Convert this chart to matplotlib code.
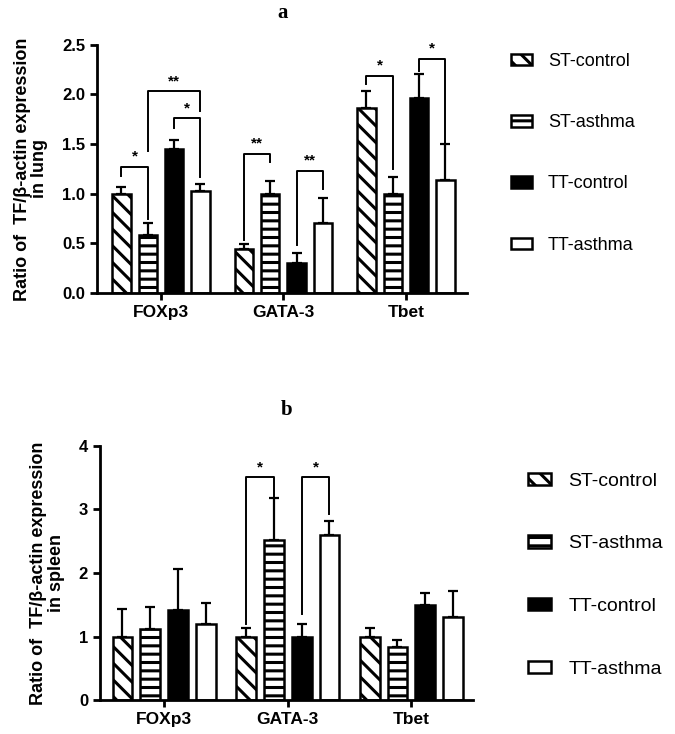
import matplotlib as mpl
mpl.use('Agg')
import matplotlib.pyplot as plt
import numpy as np

plt.rcParams['font.family'] = ['Liberation Sans', 'DejaVu Sans']
plt.rcParams['hatch.linewidth'] = 2.2

genes = ['FOXp3', 'GATA-3', 'Tbet']
groups = ['ST-control', 'ST-asthma', 'TT-control', 'TT-asthma']

# panel a, lung: rows = groups, columns = genes
lung_mean = [[1.00, 0.44, 1.86],
             [0.58, 1.00, 1.00],
             [1.45, 0.30, 1.96],
             [1.03, 0.70, 1.14]]
lung_err = [[0.07, 0.05, 0.17],
            [0.12, 0.13, 0.17],
            [0.09, 0.10, 0.25],
            [0.07, 0.26, 0.36]]

# panel b, spleen
spleen_mean = [[1.00, 1.00, 1.00],
               [1.12, 2.52, 0.83],
               [1.42, 0.99, 1.50],
               [1.20, 2.59, 1.31]]
spleen_err = [[0.43, 0.13, 0.13],
              [0.34, 0.65, 0.12],
              [0.64, 0.21, 0.19],
              [0.33, 0.23, 0.41]]

# significance brackets: gene, bar1, bar2, top, left leg end, right leg end, label
lung_sig = [(0, 0, 1, 1.27, 1.18, 0.74, '*'),
            (0, 1, 3, 2.03, 1.43, 1.83, '**'),
            (0, 2, 3, 1.76, 1.66, 1.17, '*'),
            (1, 0, 1, 1.40, 0.53, 1.32, '**'),
            (1, 2, 3, 1.23, 0.48, 1.05, '**'),
            (2, 0, 1, 2.19, 2.10, 1.25, '*'),
            (2, 2, 3, 2.36, 2.24, 1.29, '*')]
spleen_sig = [(1, 0, 1, 3.50, 1.20, 3.19, '*'),
              (1, 2, 3, 3.50, 1.36, 2.93, '*')]

hatches = ['\\\\', '--', '', '']
faces = ['white', 'white', 'black', 'white']

fig = plt.figure(figsize=(6.75, 7.34), dpi=100)


def panel(rect, means, errs, sig, step, width, ylim, yticks, ylab, title, title_pad,
          leg_anchor, leg_fs, leg_sp):
    ax = fig.add_axes(rect)
    x = np.arange(len(genes))
    handles = []
    for i, g in enumerate(groups):
        pos = x + (i - 1.5) * step
        b = ax.bar(pos, means[i], width, color=faces[i], edgecolor='black',
                   linewidth=1.8, hatch=hatches[i], label=g, zorder=2)
        ax.errorbar(pos, means[i], yerr=[np.zeros(len(genes)), errs[i]], fmt='none',
                    ecolor='black', elinewidth=1.6, capsize=3.5, capthick=1.6, zorder=1)
        handles.append(b)
    for gi, b1, b2, top, l_end, r_end, lab in sig:
        x1 = gi + (b1 - 1.5) * step
        x2 = gi + (b2 - 1.5) * step
        ax.plot([x1, x1, x2, x2], [l_end, top, top, r_end], color='black', lw=1.4)
        ax.text((x1 + x2) / 2, top + ylim[1] * 0.012, lab, ha='center', va='bottom',
                fontsize=11, fontweight='bold')
    ax.set_xlim(-0.52, 2.5)
    ax.set_ylim(*ylim)
    ax.set_yticks(yticks)
    ax.set_xticks(x)
    ax.set_xticklabels(genes, fontweight='bold', fontsize=12.5)
    for t in ax.get_yticklabels():
        t.set_fontweight('bold')
        t.set_fontsize(12)
    ax.spines['top'].set_visible(False)
    ax.spines['right'].set_visible(False)
    ax.spines['left'].set_linewidth(2)
    ax.spines['bottom'].set_linewidth(2)
    ax.tick_params(width=2, length=5)
    ax.set_ylabel(ylab, fontweight='bold', fontsize=13, labelpad=10, linespacing=1.05)
    ax.set_title(title, fontweight='bold', fontsize=15, family='Liberation Serif', pad=title_pad)
    ax.legend(handles=handles, loc='upper left', bbox_to_anchor=leg_anchor,
              bbox_transform=fig.transFigure, frameon=False, fontsize=leg_fs,
              labelspacing=leg_sp, handlelength=1.15, handleheight=0.6, handletextpad=0.9)
    return ax


panel([0.144, 0.601, 0.548, 0.338], lung_mean, lung_err, lung_sig, 0.215, 0.15,
      (0, 2.5), np.arange(0, 2.51, 0.5),
      'Ratio of  TF/β-actin expression\nin lung', 'a', 19, (0.733, 0.95), 13, 2.45)
ax_b = panel([0.148, 0.046, 0.553, 0.347], spleen_mean, spleen_err, spleen_sig, 0.225, 0.16,
             (0, 4), [0, 1, 2, 3, 4],
             'Ratio of  TF/β-actin expression\nin spleen', 'b', 22, (0.757, 0.38), 14, 2.35)
ax_b.set_yticklabels(['0', '1', '2', '3', '4'], fontweight='bold', fontsize=12)

fig.savefig('out.png', dpi=100)
